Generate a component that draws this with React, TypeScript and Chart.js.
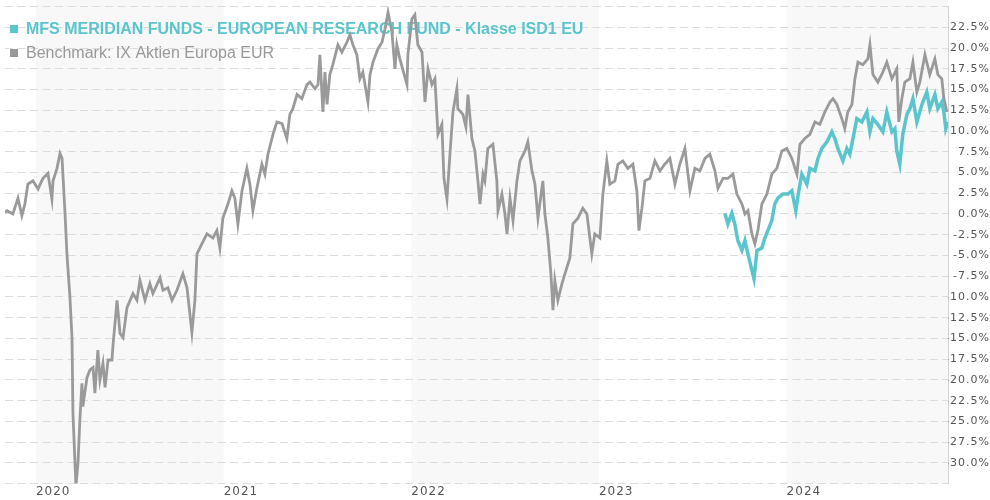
import React, { useEffect, useRef } from 'react';
import { Chart, registerables } from 'chart.js';

Chart.register(...registerables);

const fundName = 'MFS MERIDIAN FUNDS - EUROPEAN RESEARCH FUND - Klasse ISD1 EU';
const benchName = 'Benchmark: IX Aktien Europa EUR';
const fundColor = '#5bc5cd';
const benchColor = '#9a9a9a';

const yearTicks = [2020, 2021, 2022, 2023, 2024];
const shadedYears = [2020, 2022, 2024];
const xMin = 2019.835;
const xMax = 2024.86;
const yMin = -32.5;
const yMax = 25;
const yStep = 2.5;

// Benchmark: time (fractional year) and performance (%)
const benchT = [
  2019.835, 2019.846, 2019.877, 2019.904, 2019.925, 2019.941, 2019.957, 2019.984, 2020.011, 2020.037,
  2020.064, 2020.085, 2020.091, 2020.112, 2020.128, 2020.139, 2020.155, 2020.165, 2020.171, 2020.181,
  2020.192, 2020.197, 2020.213, 2020.224, 2020.234, 2020.245, 2020.250, 2020.272, 2020.288, 2020.304,
  2020.314, 2020.330, 2020.341, 2020.357, 2020.368, 2020.384, 2020.405, 2020.410, 2020.432, 2020.448,
  2020.464, 2020.485, 2020.517, 2020.538, 2020.554, 2020.581, 2020.607, 2020.623, 2020.661, 2020.677,
  2020.703, 2020.725, 2020.751, 2020.783, 2020.805, 2020.831, 2020.847, 2020.858, 2020.884, 2020.911,
  2020.943, 2020.964, 2020.980, 2020.996, 2021.023, 2021.044, 2021.060, 2021.076, 2021.098, 2021.124,
  2021.140, 2021.156, 2021.177, 2021.204, 2021.220, 2021.236, 2021.263, 2021.284, 2021.311, 2021.337,
  2021.353, 2021.369, 2021.391, 2021.417, 2021.444, 2021.460, 2021.487, 2021.503, 2021.513, 2021.529,
  2021.540, 2021.551, 2021.566, 2021.582, 2021.609, 2021.630, 2021.657, 2021.673, 2021.689, 2021.710,
  2021.726, 2021.742, 2021.769, 2021.780, 2021.796, 2021.822, 2021.844, 2021.860, 2021.876, 2021.897,
  2021.913, 2021.923, 2021.939, 2021.977, 2021.982, 2022.003, 2022.019, 2022.035, 2022.057, 2022.073,
  2022.089, 2022.110, 2022.126, 2022.142, 2022.163, 2022.174, 2022.190, 2022.206, 2022.222, 2022.243,
  2022.248, 2022.275, 2022.291, 2022.302, 2022.323, 2022.339, 2022.355, 2022.366, 2022.382, 2022.392,
  2022.408, 2022.435, 2022.456, 2022.462, 2022.483, 2022.499, 2022.510, 2022.526, 2022.542, 2022.563,
  2022.579, 2022.606, 2022.621, 2022.643, 2022.659, 2022.675, 2022.701, 2022.712, 2022.728, 2022.744,
  2022.755, 2022.765, 2022.781, 2022.803, 2022.819, 2022.845, 2022.861, 2022.888, 2022.914, 2022.936,
  2022.962, 2022.978, 2023.005, 2023.021, 2023.042, 2023.058, 2023.085, 2023.101, 2023.127, 2023.154,
  2023.181, 2023.202, 2023.213, 2023.229, 2023.245, 2023.272, 2023.298, 2023.325, 2023.351, 2023.378,
  2023.405, 2023.431, 2023.458, 2023.485, 2023.511, 2023.538, 2023.565, 2023.591, 2023.618, 2023.634,
  2023.661, 2023.687, 2023.714, 2023.735, 2023.762, 2023.778, 2023.794, 2023.815, 2023.831, 2023.847,
  2023.868, 2023.895, 2023.921, 2023.948, 2023.975, 2024.001, 2024.028, 2024.055, 2024.071, 2024.097,
  2024.124, 2024.151, 2024.177, 2024.204, 2024.231, 2024.247, 2024.268, 2024.294, 2024.310, 2024.326,
  2024.348, 2024.364, 2024.380, 2024.406, 2024.433, 2024.444, 2024.460, 2024.486, 2024.513, 2024.534,
  2024.561, 2024.587, 2024.598, 2024.614, 2024.630, 2024.657, 2024.673, 2024.694, 2024.710, 2024.737,
  2024.763, 2024.790, 2024.806, 2024.827, 2024.838, 2024.854,
];
const benchV = [
  0.2, 0.4, 0.0, 1.9, -0.2, 1.2, 3.6, 4.0, 3.0, 4.3,
  4.9, 1.8, 4.0, 5.5, 7.3, 6.7, 0.0, -4.8, -6.8, -10.0,
  -14.9, -24.0, -32.8, -30.0, -24.8, -20.4, -23.2, -19.7, -18.8, -18.5,
  -21.6, -16.4, -20.0, -18.0, -20.9, -17.6, -17.6, -16.0, -10.4, -14.4,
  -14.9, -11.3, -9.6, -10.4, -8.0, -10.4, -8.4, -9.6, -7.7, -9.2,
  -8.9, -10.4, -9.2, -7.2, -8.9, -14.3, -10.4, -4.8, -3.6, -2.4,
  -2.9, -2.0, -4.1, -0.5, 1.2, 2.8, 1.9, -1.2, 2.8, 5.5,
  3.6, 0.4, 3.1, 6.0, 4.8, 7.2, 9.6, 11.1, 10.9, 9.1,
  12.0, 12.7, 14.4, 13.9, 15.6, 15.9, 15.1, 15.6, 19.2, 12.3,
  17.1, 13.2, 16.8, 18.0, 20.4, 19.5, 20.7, 21.6, 20.4, 19.2,
  16.3, 17.1, 13.5, 16.8, 18.3, 19.9, 20.7, 22.3, 24.3, 21.9,
  17.5, 20.4, 18.7, 15.6, 19.2, 23.5, 24.0, 20.4, 19.5, 13.5,
  17.5, 15.6, 16.3, 9.6, 10.8, 4.3, 1.8, 7.2, 12.3, 15.1,
  12.7, 12.0, 10.5, 14.4, 9.1, 7.6, 4.0, 1.2, 4.8, 4.0,
  7.9, 8.4, 4.0, 0.4, 2.4, 0.0, -2.4, 1.9, -0.8, 4.0,
  6.4, 7.6, 8.7, 5.2, 3.6, -0.5, 4.0, 0.0, -2.9, -7.2,
  -11.6, -8.0, -10.4, -8.4, -7.2, -5.3, -1.2, -0.5, 0.7, 0.0,
  -4.8, -2.4, -2.9, 2.4, 6.4, 3.6, 4.0, 6.0, 6.4, 5.5,
  6.0, 2.8, -2.0, 0.7, 4.0, 4.3, 6.4, 5.2, 6.0, 6.7,
  3.6, 6.0, 7.9, 2.8, 5.5, 5.2, 6.7, 7.2, 5.2, 3.1,
  4.3, 4.3, 4.8, 2.4, 1.2, 0.0, 0.4, -2.4, -3.6, -2.0,
  1.2, 2.4, 4.8, 5.5, 7.6, 7.9, 6.7, 4.8, 8.4, 9.1,
  9.6, 11.1, 10.8, 12.3, 13.5, 13.9, 13.2, 11.5, 10.3, 12.3,
  13.2, 16.3, 18.3, 18.0, 18.7, 20.4, 16.8, 15.9, 17.1, 18.3,
  16.3, 17.5, 11.1, 13.9, 15.9, 16.3, 18.3, 14.7, 15.9, 19.2,
  16.8, 18.7, 16.8, 16.3, 13.9, 12.3,
];

// Fund: time (fractional year) and performance (%)
const fundT = [
  2023.671, 2023.687, 2023.708, 2023.724, 2023.740, 2023.762, 2023.778, 2023.794, 2023.815, 2023.826,
  2023.842, 2023.868, 2023.884, 2023.900, 2023.921, 2023.937, 2023.953, 2023.980, 2024.007, 2024.028,
  2024.049, 2024.065, 2024.081, 2024.108, 2024.124, 2024.151, 2024.167, 2024.188, 2024.215, 2024.241,
  2024.257, 2024.273, 2024.300, 2024.321, 2024.337, 2024.358, 2024.374, 2024.401, 2024.428, 2024.444,
  2024.460, 2024.486, 2024.513, 2024.534, 2024.561, 2024.577, 2024.587, 2024.603, 2024.619, 2024.641,
  2024.657, 2024.673, 2024.694, 2024.721, 2024.747, 2024.763, 2024.790, 2024.806, 2024.827, 2024.838,
  2024.848, 2024.859,
];
const fundV = [
  0.1, -1.2, 0.1, -1.2, -3.2, -4.4, -3.2, -4.8, -6.8, -7.8,
  -4.4, -4.1, -2.9, -2.0, -0.8, 1.2, 1.9, 2.4, 2.4, 2.8,
  0.4, 2.8, 4.8, 3.6, 5.5, 5.2, 6.7, 7.9, 8.7, 9.9,
  9.1, 7.9, 6.4, 7.9, 7.2, 9.6, 11.5, 11.1, 12.3, 9.9,
  11.5, 10.8, 9.9, 12.3, 9.9, 10.3, 7.6, 6.0, 9.6, 12.0,
  12.7, 13.9, 11.1, 13.2, 14.7, 12.7, 14.4, 12.7, 13.5, 12.3,
  10.3, 11.1,
];

const tickFont = 'DejaVu Sans';
const legendFont = '"Liberation Sans", Arial, sans-serif';
const tickSpacing = '1px';

const decorPlugin = {
  id: 'decor',
  beforeLayout(chart: any) {
    chart.ctx.letterSpacing = tickSpacing;
  },
  beforeDraw(chart: any) {
    const { ctx, chartArea, scales } = chart;
    const x = scales.x;
    ctx.save();
    ctx.fillStyle = '#f8f8f8';
    shadedYears.forEach((yr) => {
      const l = Math.max(x.getPixelForValue(yr), chartArea.left);
      const r = Math.min(x.getPixelForValue(yr + 1), chartArea.right);
      if (r > l) ctx.fillRect(l, 0, r - l, chartArea.bottom);
    });
    ctx.restore();
    ctx.letterSpacing = tickSpacing;
  },
  beforeDatasetsDraw(chart: any) {
    const { ctx } = chart;
    ctx.letterSpacing = '0px';
    ctx.save();
    ctx.textBaseline = 'middle';
    ctx.textAlign = 'left';
    ctx.font = 'bold 16px ' + legendFont;
    ctx.fillStyle = fundColor;
    ctx.fillRect(10, 25, 8, 8);
    ctx.fillText(fundName, 26, 29.5);
    ctx.font = '16px ' + legendFont;
    ctx.fillStyle = '#999999';
    ctx.fillRect(10, 49, 8, 8);
    ctx.fillText(benchName, 26, 53.5);
    ctx.restore();
  },
};

export default function App() {
  const ref = useRef<HTMLCanvasElement | null>(null);

  useEffect(() => {
    if (!ref.current) return;
    const chart = new Chart(ref.current, {
      type: 'line',
      data: {
        datasets: [
          {
            label: fundName,
            data: fundT.map((t, i) => ({ x: t, y: fundV[i] })),
            borderColor: fundColor,
            borderWidth: 3.5,
            pointRadius: 0,
            tension: 0,
            fill: false,
          },
          {
            label: benchName,
            data: benchT.map((t, i) => ({ x: t, y: benchV[i] })),
            borderColor: benchColor,
            borderWidth: 2.8,
            pointRadius: 0,
            tension: 0,
            fill: false,
          },
        ],
      },
      options: {
        responsive: false,
        animation: false,
        events: [],
        layout: { padding: { top: 4, left: 5, right: 0, bottom: 0 } },
        plugins: { legend: { display: false }, tooltip: { enabled: false } },
        scales: {
          x: {
            type: 'linear',
            min: xMin,
            max: xMax,
            afterBuildTicks: (s: any) => {
              s.ticks = yearTicks.map((v) => ({ value: v }));
            },
            afterFit: (s: any) => {
              s.height = 16.4;
            },
            grid: { display: false, drawTicks: false },
            border: { display: false },
            ticks: {
              align: 'start',
              maxRotation: 0,
              minRotation: 0,
              autoSkip: false,
              padding: 1,
              color: '#555555',
              font: { family: tickFont, size: 12 },
              callback: (v: any) => String(v),
            },
          },
          y: {
            type: 'linear',
            position: 'right',
            min: yMin,
            max: yMax,
            afterFit: (s: any) => {
              s.width = 42;
            },
            grid: { color: '#dcdcdc', lineWidth: 1, drawTicks: false },
            border: { display: true, color: '#d4d4d4', dash: [8, 4.5] },
            ticks: {
              stepSize: yStep,
              crossAlign: 'far',
              padding: 0,
              color: '#555555',
              font: { family: tickFont, size: 11 },
              callback: (v: any) =>
                Number(v) === yMin || Number(v) === yMax ? '' : Number(v).toFixed(1) + '%',
            },
          },
        },
      } as any,
      plugins: [decorPlugin],
    });
    return () => chart.destroy();
  }, []);

  return (
    <div style={{ position: 'absolute', left: 0, top: 0, width: 990, height: 500, background: '#ffffff' }}>
      <canvas ref={ref} width={990} height={500} />
    </div>
  );
}
